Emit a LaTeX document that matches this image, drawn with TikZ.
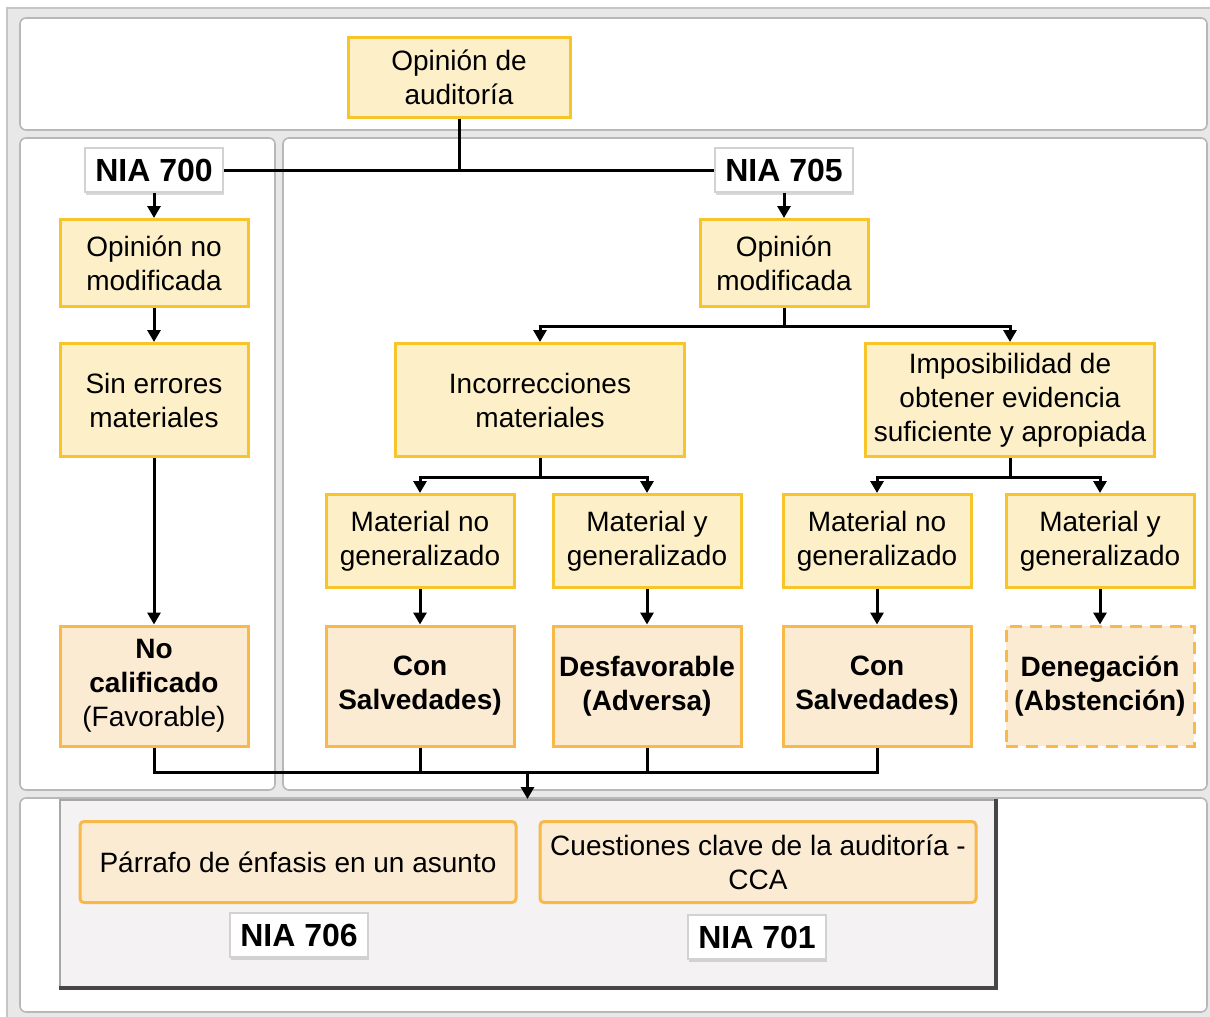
\documentclass[tikz,border=0pt]{standalone}
\usepackage{fontspec}
\setmainfont{Liberation Sans}
\usetikzlibrary{arrows.meta,shadows,positioning}

\definecolor{amarillo}{HTML}{FDF0C8}
\definecolor{oro}{HTML}{F7C42A}
\definecolor{melocoton}{HTML}{FCEBD3}
\definecolor{naranja}{HTML}{F8B84A}
\definecolor{marco}{HTML}{E8E8E8}
\definecolor{bordepanel}{HTML}{B8B8B8}
\definecolor{grisclaro}{HTML}{F4F2F3}

\tikzset{
  caja/.style={rectangle, draw=oro, fill=amarillo, line width=1.5pt, align=center, inner sep=0pt, font=\fontsize{14}{17}\selectfont},
  resultado/.style={caja, draw=naranja, fill=melocoton, font=\fontsize{14}{17}\selectfont\bfseries},
  parrafo/.style={caja, draw=naranja, fill=melocoton, rounded corners=2pt, minimum width=218pt, minimum height=40.5pt},
  nia/.style={rectangle, draw=gray!35, line width=0.8pt, fill=white, inner sep=0pt, minimum width=69pt, minimum height=22pt, font=\fontsize{16}{19}\selectfont\bfseries, drop shadow={shadow xshift=0.6pt, shadow yshift=-1.6pt, fill=gray!60}},
  panel/.style={draw=bordepanel, fill=white, line width=0.8pt, rounded corners=3pt},
  linea/.style={line width=1.5pt},
  flecha/.style={-{Triangle[length=6pt,width=6.5pt]}, line width=1.5pt},
}

\begin{document}
\begin{tikzpicture}[x=0.5pt, y=-0.5pt]
    \useasboundingbox (0,0) rectangle (1210,1017);

    % marco y paneles
    \fill[marco] (7,8) rectangle (1210,1017);
    \draw[gray!45, line width=0.8pt] (7,1017) -- (7,8) -- (1210,8);
    \draw[panel] (20,18) rectangle (1207,130);
    \draw[panel] (20,138) rectangle (275,790);
    \draw[panel] (283,138) rectangle (1207,790);
    \draw[panel] (20,798) rectangle (1207,1012);

    % caja gris inferior
    \node[rectangle, draw=gray!70, fill=grisclaro, line width=1pt, minimum width=467.5pt, minimum height=93.5pt] (fondo) at (527.5,893.5) {};
    \draw[gray!55!black, line width=2pt] (fondo.north east) -- (fondo.south east) -- (fondo.south west);

    % nodos
    \node[caja, minimum width=111pt, minimum height=40pt] (opinion) at (459,77) {Opinión de\\auditoría};

    \node[nia] (n700) at (154,170) {NIA 700};
    \node[nia] (n705) at (784,170) {NIA 705};

    \node[caja, minimum width=94pt, minimum height=43.5pt] (nomod) at (154,263) {Opinión no\\modificada};
    \node[caja, minimum width=94pt, minimum height=56.5pt] (sinerr) at (154,400) {Sin errores\\materiales};
    \node[resultado, minimum width=94pt, minimum height=60pt] (nocal) at (154,686) {No\\calificado\\{\mdseries (Favorable)}};

    \node[caja, minimum width=84pt, minimum height=43.5pt] (mod) at (784,263) {Opinión\\modificada};
    \node[caja, minimum width=144.5pt, minimum height=56.5pt] (incorr) at (540,400) {Incorrecciones\\materiales};
    \node[caja, minimum width=144.5pt, minimum height=56.5pt] (imposib) at (1010,400) {Imposibilidad de\\obtener evidencia\\suficiente y apropiada};

    \node[caja, minimum width=94pt, minimum height=46.5pt] (mat1) at (420,541) {Material no\\generalizado};
    \node[caja, minimum width=94pt, minimum height=46.5pt] (mat2) at (647,541) {Material y\\generalizado};
    \node[caja, minimum width=94pt, minimum height=46.5pt] (mat3) at (877,541) {Material no\\generalizado};
    \node[caja, minimum width=94pt, minimum height=46.5pt] (mat4) at (1100,541) {Material y\\generalizado};

    \node[resultado, minimum width=94pt, minimum height=60pt] (con1) at (420,686) {Con\\Salvedades)};
    \node[resultado, minimum width=94pt, minimum height=60pt] (desf) at (647,686) {Desfavorable\\(Adversa)};
    \node[resultado, minimum width=94pt, minimum height=60pt] (con2) at (877,686) {Con\\Salvedades)};
    \node[resultado, dashed, dash pattern=on 6pt off 4pt, minimum width=94pt, minimum height=60pt] (deneg) at (1100,686) {Denegación\\(Abstención)};

    \node[parrafo] (enfasis) at (298,862) {Párrafo de énfasis en un asunto};
    \node[parrafo] (cca) at (758,862) {Cuestiones clave de la auditoría -\\CCA};
    \node[nia] (n706) at (299,935) {NIA 706};
    \node[nia] (n701) at (757,937) {NIA 701};

    % conexiones
    \draw[linea] (n700.east) -- (n705.west);
    \draw[linea] (opinion.south) -- (opinion.south |- n700);
    \draw[flecha] (n700) -- (nomod);
    \draw[flecha] (nomod) -- (sinerr);
    \draw[flecha] (sinerr) -- (nocal);
    \draw[flecha] (n705) -- (mod);
    \draw[flecha] (mod.south) -- ++(0,18) -| (incorr.north);
    \draw[flecha] (mod.south) -- ++(0,18) -| (imposib.north);
    \draw[flecha] (incorr.south) -- ++(0,19) -| (mat1.north);
    \draw[flecha] (incorr.south) -- ++(0,19) -| (mat2.north);
    \draw[flecha] (imposib.south) -- ++(0,19) -| (mat3.north);
    \draw[flecha] (imposib.south) -- ++(0,19) -| (mat4.north);
    \draw[flecha] (mat1) -- (con1);
    \draw[flecha] (mat2) -- (desf);
    \draw[flecha] (mat3) -- (con2);
    \draw[flecha] (mat4) -- (deneg);

    \coordinate (union) at (527.5,772);
    \draw[linea] (nocal.south) -- (nocal.south |- union) -- (con2.south |- union) -- (con2.south);
    \draw[linea] (con1.south) -- (con1.south |- union);
    \draw[linea] (desf.south) -- (desf.south |- union);
    \draw[flecha] (union) -- (fondo.north);
\end{tikzpicture}
\end{document}
